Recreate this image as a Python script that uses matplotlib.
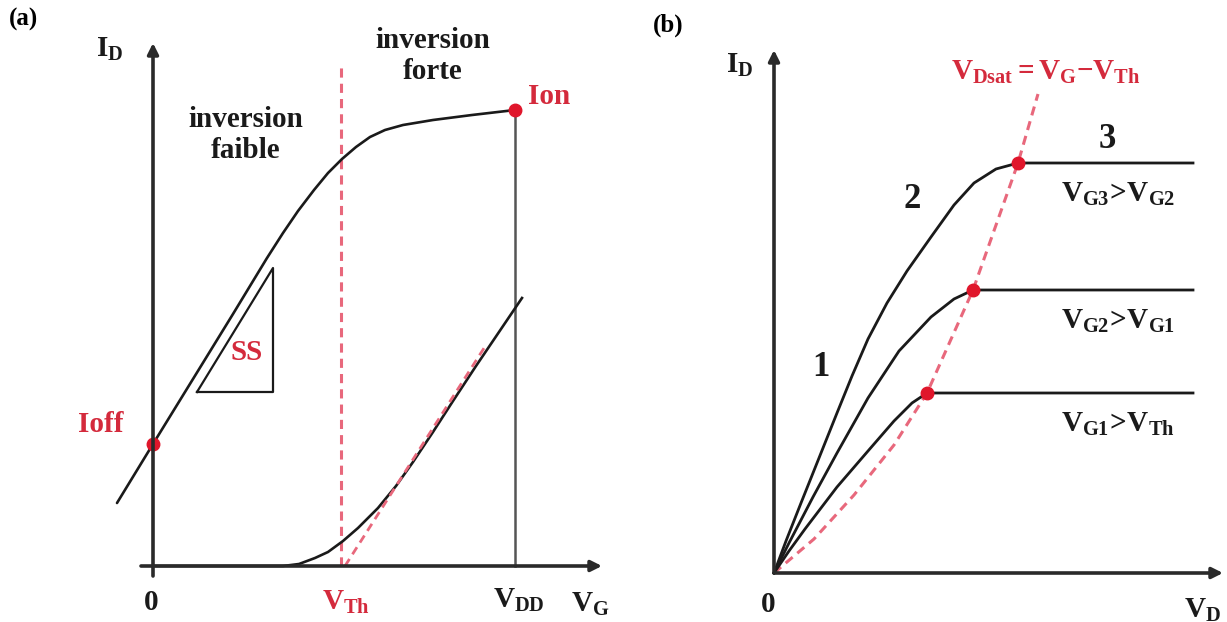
import numpy as np
import matplotlib
matplotlib.use('Agg')
import matplotlib.pyplot as plt

plt.rcParams['font.family'] = 'Liberation Serif'
plt.rcParams['font.weight'] = 'bold'
plt.rcParams['mathtext.fontset'] = 'custom'
plt.rcParams['mathtext.rm'] = 'Liberation Serif:bold'
plt.rcParams['mathtext.it'] = 'Liberation Serif:bold'
plt.rcParams['mathtext.bf'] = 'Liberation Serif:bold'

# ---- (a) ID(VG): arbitrary units, origin = axis crossing
vg_log = [-36, 0, 40, 80, 114, 130, 145, 161, 175, 189, 203, 217, 232, 250, 280, 319, 362]
id_log = [63, 122, 187, 252, 308, 333, 355, 376, 393, 407, 419, 429, 436, 441, 446, 451, 456]
vg_lin = [0, 130, 146, 162, 175, 190, 205, 225, 243, 260, 280, 300, 323, 369]
id_lin = [0, 0, 2, 8, 14, 25, 38, 58, 80, 104, 134, 165, 200, 268]
vth = 188
vdd = 362
i_off = 122
i_on = 456
tangent_vg = [192, 333]
tangent_id = [0, 221]
ss_vg = [44, 120, 120, 44]
ss_id = [174, 174, 298, 174]

# ---- (b) ID(VD) for three gate voltages
vd_1 = [0, 15, 31, 63, 94, 120, 138, 153]
id_1 = [0, 22, 44, 86, 122, 152, 170, 180]
vd_2 = [0, 15, 39, 63, 94, 125, 157, 180, 199]
id_2 = [0, 30, 76, 120, 175, 222, 256, 274, 283]
vd_3 = [0, 12, 27, 47, 63, 78, 94, 113, 133, 157, 180, 200, 222, 244]
id_3 = [0, 32, 70, 120, 160, 197, 234, 270, 302, 336, 368, 390, 404, 410]
vd_end = 419
vdsat_vd = [0, 40, 80, 120, 153, 199, 244, 264]
vdsat_id = [0, 34, 78, 128, 180, 283, 410, 479]
sat_labels = [r'$V_{G1}\!>\!V_{Th}$', r'$V_{G2}\!>\!V_{G1}$', r'$V_{G3}\!>\!V_{G2}$']

red = '#e0162b'
txt_red = '#d42a3c'
dash_red = '#e8687c'
black = '#1a1a1a'
fs = 21

fig = plt.figure(figsize=(12.27, 6.22), dpi=100)
ax_a = fig.add_axes([0, 0, 613 / 1227, 1])
ax_b = fig.add_axes([613 / 1227, 0, 614 / 1227, 1])
ax_a.set_xlim(-153, 460)
ax_a.set_ylim(-56, 566)
ax_b.set_xlim(-161, 453)
ax_b.set_ylim(-49, 573)
for ax in (ax_a, ax_b):
    ax.axis('off')

arrow = dict(arrowstyle='-|>', lw=2.6, color='#2a2a2a', mutation_scale=16,
             shrinkA=0, shrinkB=0)

# ---------------- panel (a)
ax_a.annotate('', xy=(0, 523), xytext=(0, -10), arrowprops=arrow)
ax_a.annotate('', xy=(449, 0), xytext=(-12, 0), arrowprops=arrow)
ax_a.plot([vdd, vdd], [0, i_on], color='#555555', lw=1.8)
ax_a.plot([vth, vth], [0, 501], color=dash_red, lw=2.2, dashes=(3, 2))
ax_a.plot(vg_log, id_log, color=black, lw=1.9, solid_capstyle='round')
ax_a.plot(vg_lin, id_lin, color=black, lw=1.9)
ax_a.plot(tangent_vg, tangent_id, color=dash_red, lw=2, dashes=(3, 2))
ax_a.plot(ss_vg, ss_id, color=black, lw=1.6)
ax_a.plot([0, vdd], [i_off, i_on], 'o', color=red, ms=9, ls='none')

ax_a.text(-130, 547, '(a)', fontsize=fs - 3, ha='center', va='center')
ax_a.text(-43, 517, r'$I_D$', fontsize=fs, ha='center', va='center', color=black)
ax_a.text(280, 510, 'inversion\nforte', fontsize=fs, ha='center', va='center',
          linespacing=1.2, color=black)
ax_a.text(93, 431, 'inversion\nfaible', fontsize=fs, ha='center', va='center',
          linespacing=1.2, color=black)
ax_a.text(396, 469, 'Ion', fontsize=fs, ha='center', va='center', color=txt_red)
ax_a.text(-52, 141, 'Ioff', fontsize=fs, ha='center', va='center', color=txt_red)
ax_a.text(94, 213, 'SS', fontsize=fs, ha='center', va='center', color=txt_red)
ax_a.text(-2, -36, '0', fontsize=fs, ha='center', va='center', color=black)
ax_a.text(193, -36, r'$V_{Th}$', fontsize=fs, ha='center', va='center', color=txt_red)
ax_a.text(366, -34, r'$V_{DD}$', fontsize=fs, ha='center', va='center', color=black)
ax_a.text(437, -38, r'$V_G$', fontsize=fs, ha='center', va='center', color=black)

# ---------------- panel (b)
ax_b.annotate('', xy=(0, 523), xytext=(0, 0), arrowprops=arrow)
ax_b.annotate('', xy=(449, 0), xytext=(0, 0), arrowprops=arrow)
ax_b.plot(vdsat_vd, vdsat_id, color=dash_red, lw=2.2, dashes=(3, 2))
curves = [(vd_1, id_1), (vd_2, id_2), (vd_3, id_3)]
for (vd, i_d), lab in zip(curves, sat_labels):
    ax_b.plot(vd + [vd_end], i_d + [i_d[-1]], color=black, lw=2.0)
    ax_b.plot(vd[-1], i_d[-1], 'o', color=red, ms=9)
    ax_b.text(344, i_d[-1] - 31, lab, fontsize=fs, ha='center', va='center',
              color=black)

ax_b.text(-106, 548, '(b)', fontsize=fs - 3, ha='center', va='center')
ax_b.text(-34, 508, r'$I_D$', fontsize=fs, ha='center', va='center', color=black)
ax_b.text(272, 501, r'$V_{Dsat}{=}V_G{-}V_{Th}$', fontsize=fs, ha='center',
          va='center', color=txt_red)
ax_b.text(47, 205, '1', fontsize=fs + 4, ha='center', va='center', color=black)
ax_b.text(138, 373, '2', fontsize=fs + 4, ha='center', va='center', color=black)
ax_b.text(333, 433, '3', fontsize=fs + 4, ha='center', va='center', color=black)
ax_b.text(-6, -32, '0', fontsize=fs, ha='center', va='center', color=black)
ax_b.text(428, -37, r'$V_D$', fontsize=fs, ha='center', va='center', color=black)

fig.savefig('out.png', dpi=100)
